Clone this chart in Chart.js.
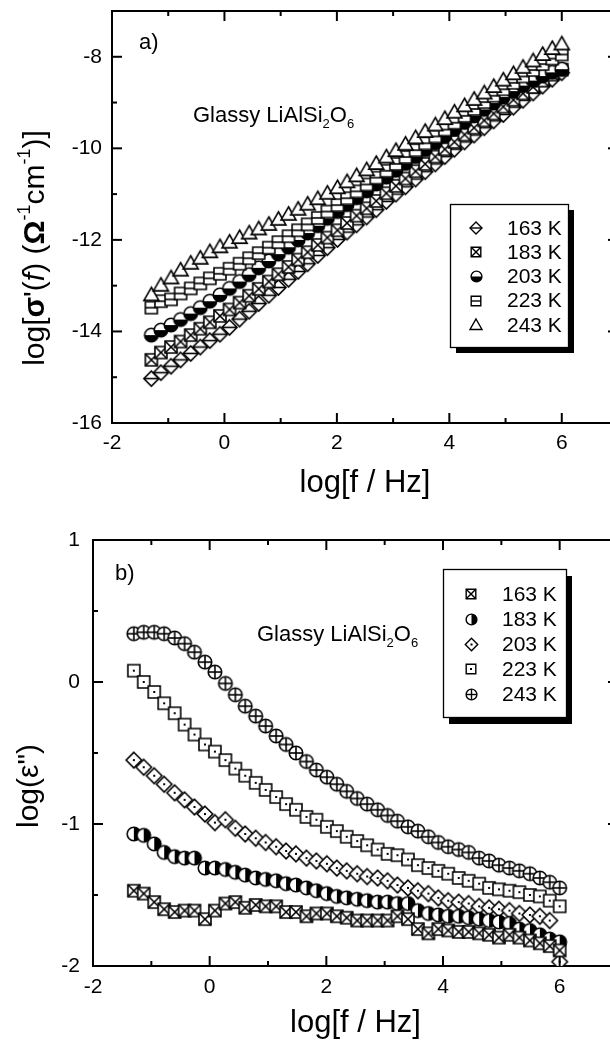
<!DOCTYPE html><html lang="en">
<head>
  <meta charset="UTF-8"/>
  <title>Glassy LiAlSi2O6 – conductivity and dielectric loss</title>
  <script src="https://cdn.jsdelivr.net/npm/chart.js@4.4.1/dist/chart.umd.min.js"></script>
  <style>
    *{box-sizing:border-box;margin:0;padding:0}
    body{width:610px;height:1046px;overflow:hidden;background:#fff;position:relative}
    .panel{position:absolute;left:0;width:640px}
    #boxA{top:0;height:520px}
    #boxB{top:520px;height:526px}
  </style>
</head>
<body>
  <div class="panel" id="boxA"><canvas id="chartA" width="640" height="520"></canvas></div>
  <div class="panel" id="boxB"><canvas id="chartB" width="640" height="526"></canvas></div>
  <script>
    // log(f/Hz) of the measured points
    const logF = [-1.30,-1.13,-0.95,-0.78,-0.60,-0.43,-0.26,-0.08,0.09,0.27,
                  0.44,0.61,0.79,0.96,1.14,1.31,1.48,1.66,1.83,2.01,
                  2.18,2.35,2.53,2.70,2.88,3.05,3.22,3.40,3.57,3.75,
                  3.92,4.09,4.27,4.44,4.62,4.79,4.96,5.14,5.31,5.49,
                  5.66,5.83,6.00];
    const temps = ['163 K','183 K','203 K','223 K','243 K'];

    // panel a) log sigma'(f)
    const sigma163 = [-15.03,-14.90,-14.76,-14.62,-14.48,-14.34,-14.20,-14.06,-13.91,-13.73,
                      -13.56,-13.39,-13.21,-13.04,-12.86,-12.69,-12.52,-12.34,-12.17,-11.99,
                      -11.83,-11.67,-11.50,-11.34,-11.16,-11.00,-10.84,-10.67,-10.51,-10.34,
                      -10.18,-10.02,-9.86,-9.71,-9.55,-9.40,-9.26,-9.10,-8.95,-8.79,
                      -8.64,-8.49,-8.35];
    const sigma183 = [-14.62,-14.46,-14.34,-14.22,-14.08,-13.94,-13.80,-13.66,-13.52,-13.37,
                      -13.22,-13.07,-12.91,-12.75,-12.59,-12.43,-12.27,-12.11,-11.95,-11.79,
                      -11.63,-11.47,-11.31,-11.15,-10.98,-10.82,-10.66,-10.50,-10.34,-10.18,
                      -10.02,-9.86,-9.70,-9.55,-9.39,-9.24,-9.09,-8.94,-8.80,-8.66,
                      -8.52,-8.39,-8.28];
    const sigma203 = [-14.08,-13.97,-13.86,-13.74,-13.61,-13.48,-13.34,-13.20,-13.06,-12.91,
                      -12.76,-12.61,-12.46,-12.31,-12.16,-12.00,-11.85,-11.69,-11.53,-11.38,
                      -11.23,-11.08,-10.93,-10.78,-10.63,-10.48,-10.33,-10.18,-10.03,-9.88,
                      -9.73,-9.58,-9.43,-9.29,-9.15,-9.01,-8.88,-8.75,-8.63,-8.52,
                      -8.42,-8.34,-8.27];
    const sigma223 = [-13.48,-13.34,-13.30,-13.17,-13.06,-12.95,-12.84,-12.74,-12.63,-12.52,
                      -12.40,-12.29,-12.17,-12.05,-11.92,-11.79,-11.66,-11.52,-11.38,-11.24,
                      -11.09,-10.94,-10.79,-10.64,-10.49,-10.34,-10.19,-10.04,-9.89,-9.74,
                      -9.59,-9.44,-9.29,-9.14,-8.99,-8.85,-8.71,-8.57,-8.43,-8.29,
                      -8.16,-8.04,-7.95];
    const sigma243 = [-13.20,-12.99,-12.83,-12.66,-12.51,-12.40,-12.26,-12.15,-12.05,-11.95,
                      -11.85,-11.76,-11.66,-11.55,-11.44,-11.33,-11.22,-11.10,-10.98,-10.86,
                      -10.73,-10.60,-10.47,-10.33,-10.19,-10.05,-9.91,-9.77,-9.63,-9.49,
                      -9.35,-9.21,-9.07,-8.93,-8.79,-8.65,-8.51,-8.37,-8.23,-8.09,
                      -7.95,-7.82,-7.72];

    // panel b) log eps''
    const eps163 = [-1.47,-1.49,-1.55,-1.60,-1.62,-1.61,-1.61,-1.67,-1.61,-1.56,
                    -1.55,-1.59,-1.57,-1.58,-1.58,-1.62,-1.62,-1.65,-1.63,-1.63,
                    -1.65,-1.66,-1.68,-1.68,-1.68,-1.68,-1.65,-1.67,-1.74,-1.77,
                    -1.74,-1.75,-1.76,-1.76,-1.77,-1.78,-1.80,-1.78,-1.80,-1.82,
                    -1.84,-1.86,-1.89];
    const eps183 = [-1.07,-1.08,-1.14,-1.20,-1.23,-1.24,-1.24,-1.31,-1.31,-1.32,
                    -1.34,-1.36,-1.38,-1.39,-1.40,-1.42,-1.43,-1.45,-1.47,-1.49,
                    -1.51,-1.52,-1.53,-1.54,-1.55,-1.55,-1.56,-1.56,-1.61,-1.63,
                    -1.64,-1.65,-1.65,-1.66,-1.67,-1.68,-1.69,-1.70,-1.74,-1.75,
                    -1.78,-1.81,-1.83];
    const eps203 = [-0.55,-0.60,-0.66,-0.72,-0.78,-0.83,-0.88,-0.93,-0.99,-0.97,
                    -1.03,-1.07,-1.10,-1.13,-1.16,-1.19,-1.21,-1.24,-1.26,-1.28,
                    -1.31,-1.33,-1.35,-1.37,-1.38,-1.40,-1.43,-1.45,-1.47,-1.49,
                    -1.52,-1.54,-1.55,-1.56,-1.58,-1.59,-1.60,-1.61,-1.63,-1.64,
                    -1.65,-1.68,-1.97];
    const eps223 = [0.08,0.00,-0.07,-0.15,-0.22,-0.30,-0.37,-0.44,-0.49,-0.55,
                    -0.61,-0.66,-0.71,-0.76,-0.81,-0.86,-0.90,-0.95,-0.97,-1.02,
                    -1.05,-1.09,-1.12,-1.15,-1.18,-1.21,-1.22,-1.25,-1.29,-1.31,
                    -1.33,-1.35,-1.38,-1.40,-1.42,-1.45,-1.46,-1.47,-1.48,-1.50,
                    -1.51,-1.54,-1.58];
    const eps243 = [0.34,0.35,0.35,0.34,0.31,0.27,0.21,0.14,0.07,-0.01,
                    -0.09,-0.17,-0.24,-0.31,-0.38,-0.44,-0.50,-0.56,-0.62,-0.67,
                    -0.72,-0.77,-0.82,-0.86,-0.90,-0.94,-0.98,-1.02,-1.05,-1.09,
                    -1.13,-1.16,-1.18,-1.20,-1.24,-1.26,-1.29,-1.31,-1.33,-1.35,
                    -1.38,-1.41,-1.45];

    // ticks
    const xMajor = [-2,0,2,4,6], xMinor = [-1,1,3,5];
    const aYMajor = [-16,-14,-12,-10,-8], aYMinor = [-15,-13,-11,-9];
    const bYMajor = [-2,-1,0,1], bYMinor = [-1.5,-0.5,0.5];

    const FONT = '"Liberation Sans", Arial, Helvetica, sans-serif';
    Chart.defaults.font.family = FONT;
    Chart.defaults.color = '#000';

    // open symbols drawn once into small canvases, used as point styles
    function makeMarker(kind, s, lw){
      const size = Math.ceil(s + 4);
      const c = document.createElement('canvas');
      c.width = size; c.height = size;
      const g = c.getContext('2d');
      const m = size / 2, h = s / 2;
      g.lineWidth = lw || 1.6; g.strokeStyle = '#000';
      const shape = () => {
        g.beginPath();
        if (kind.startsWith('diamond')) { g.moveTo(m, m-h); g.lineTo(m+h, m); g.lineTo(m, m+h); g.lineTo(m-h, m); g.closePath(); }
        else if (kind.startsWith('square')) g.rect(m-h, m-h, s, s);
        else if (kind.startsWith('circle')) g.arc(m, m, h, 0, Math.PI*2);
        else { g.moveTo(m, m-h); g.lineTo(m+h, m+h*0.75); g.lineTo(m-h, m+h*0.75); g.closePath(); }
      };
      const line = (x1,y1,x2,y2) => { g.beginPath(); g.moveTo(x1,y1); g.lineTo(x2,y2); g.stroke(); };
      shape(); g.fillStyle = '#fff'; g.fill();
      if (kind === 'circleBottom' || kind === 'circleRight') {
        g.beginPath();
        if (kind === 'circleBottom') g.arc(m, m, h, 0, Math.PI); else g.arc(m, m, h, -Math.PI/2, Math.PI/2);
        g.closePath(); g.fillStyle = '#000'; g.fill();
      }
      shape(); g.stroke();
      if (kind === 'diamondH' || kind === 'squareH') line(m-h, m, m+h, m);
      if (kind === 'squareX') { line(m-h, m-h, m+h, m+h); line(m+h, m-h, m-h, m+h); }
      if (kind === 'circlePlus') { line(m-h, m, m+h, m); line(m, m-h, m, m+h); }
      if (kind === 'diamondDot' || kind === 'squareDot') { g.fillStyle = '#000'; g.fillRect(m-1, m-1, 2, 2); }
      return c;
    }

    const kindsA = [['diamondH',15],['squareX',12],['circleBottom',13.5],['squareH',12],['triangle',15]];
    const kindsB = [['squareX',12],['circleRight',13.5],['diamondDot',15.5],['squareDot',12],['circlePlus',13.5]];

    function series(label, ys, kind, order){
      return {label, data: logF.map((x,i)=>({x, y: ys[i]})), showLine:false,
              pointStyle: makeMarker(kind[0], kind[1]), pointRadius:6, order};
    }

    function drawRich(ctx, x, y, parts, rotate){
      ctx.save();
      ctx.translate(x, y);
      if (rotate) ctx.rotate(-Math.PI/2);
      ctx.textBaseline = rotate ? 'middle' : 'alphabetic';
      ctx.textAlign = 'left';
      let w = 0;
      parts.forEach(p => { ctx.font = p.f; p.w = ctx.measureText(p.t).width; w += p.w; });
      let cx = rotate ? -w/2 : 0;
      parts.forEach(p => { ctx.font = p.f; ctx.fillText(p.t, cx, p.dy || 0); cx += p.w; });
      ctx.restore();
    }

    const f30 = '30px ' + FONT, b30 = 'bold 30px ' + FONT, s18 = '18px ' + FONT;
    const nameParts = () => [{t:'Glassy LiAlSi', f:'22px '+FONT},{t:'2', f:'13px '+FONT, dy:6},
                             {t:'O', f:'22px '+FONT},{t:'6', f:'13px '+FONT, dy:6}];

    // per panel decorations, looked up by canvas id
    const decor = {
      chartA: {
        tag:'a)', tagX:139, tagY:49, nameX:193, nameY:122,
        legend:{x:450, y:204, w:118, h:143, sx:6, sy:6, markX:476, textX:507, rowY:228, step:24.2},
        kinds: kindsA,
        yTitle:{x:36, y:248, parts:[{t:'log[', f:f30},{t:'σ', f:b30},{t:'\'(', f:f30},{t:'f', f:'italic 30px '+FONT},
                 {t:') (', f:f30},{t:'Ω', f:b30},{t:'-1', f:s18, dy:-11},{t:'cm', f:f30},{t:'-1', f:s18, dy:-11},{t:')]', f:f30}]},
        ticks:{xMajor, xMinor, yMajor:aYMajor, yMinor:aYMinor}
      },
      chartB: {
        tag:'b)', tagX:115, tagY:60, nameX:257, nameY:121,
        legend:{x:443, y:49, w:123, h:148, sx:6, sy:7, markX:471, textX:502, rowY:74, step:25},
        kinds: kindsB,
        yTitle:{x:30, y:266, parts:[{t:'log(ε")', f:f30}]},
        ticks:{xMajor, xMinor, yMajor:bYMajor, yMinor:bYMinor}
      }
    };

    // top/right frame and inward ticks on all four sides
    const frameTicks = {
      id:'frameTicks',
      afterDraw(chart){
        const d = decor[chart.canvas.id]; if (!d) return;
        const {ctx, chartArea:a, scales:{x, y}} = chart;
        ctx.save();
        ctx.strokeStyle = '#000'; ctx.lineWidth = 2;
        ctx.beginPath(); ctx.moveTo(a.left, a.top); ctx.lineTo(a.right, a.top); ctx.lineTo(a.right, a.bottom); ctx.stroke();
        const seg = (x1,y1,x2,y2) => { ctx.beginPath(); ctx.moveTo(x1,y1); ctx.lineTo(x2,y2); ctx.stroke(); };
        const xt = (vals, len) => vals.forEach(v => { const p = x.getPixelForValue(v); seg(p, a.bottom, p, a.bottom-len); seg(p, a.top, p, a.top+len); });
        const yt = (vals, len) => vals.forEach(v => { const p = y.getPixelForValue(v); seg(a.left, p, a.left+len, p); seg(a.right, p, a.right-len, p); });
        xt(d.ticks.xMajor, 10); xt(d.ticks.xMinor, 5);
        yt(d.ticks.yMajor, 10); yt(d.ticks.yMinor, 5);
        ctx.restore();
      }
    };

    // panel tag, sample name, framed legend with shadow, rich y title
    const panelDecor = {
      id:'panelDecor',
      afterDraw(chart){
        const d = decor[chart.canvas.id]; if (!d) return;
        const ctx = chart.ctx, L = d.legend;
        ctx.save();
        ctx.fillStyle = '#000';
        ctx.font = '22px ' + FONT; ctx.textBaseline = 'alphabetic';
        ctx.fillText(d.tag, d.tagX, d.tagY);
        drawRich(ctx, d.nameX, d.nameY, nameParts(), false);
        ctx.fillStyle = '#000';
        ctx.fillRect(L.x + L.sx, L.y + L.sy, L.w, L.h);
        ctx.fillStyle = '#fff';
        ctx.fillRect(L.x, L.y, L.w, L.h);
        ctx.lineWidth = 1.3; ctx.strokeStyle = '#000';
        ctx.strokeRect(L.x + 0.5, L.y + 0.5, L.w, L.h);
        temps.forEach((t, i) => {
          const cy = L.rowY + i * L.step;
          const mk = makeMarker(d.kinds[i][0], d.kinds[i][1] * 0.8, 1.4);
          ctx.drawImage(mk, Math.round(L.markX - mk.width/2), Math.round(cy - mk.height/2));
          ctx.fillStyle = '#000'; ctx.font = '21px ' + FONT; ctx.textBaseline = 'middle';
          ctx.fillText(t, L.textX, cy + 1);
        });
        ctx.fillStyle = '#000';
        drawRich(ctx, d.yTitle.x, d.yTitle.y, d.yTitle.parts, true);
        ctx.restore();
      }
    };

    function options(c){
      return {
        responsive:false, animation:false, events:[],
        layout:{padding:{top:c.top, right:22, bottom:0, left:0}},
        plugins:{legend:{display:false}, tooltip:{enabled:false}},
        scales:{
          x:{type:'linear', min:-2, max:7,
             afterBuildTicks: s => { s.ticks = xMajor.map(v => ({value:v})); },
             afterFit: s => { s.height = c.xh; s.paddingLeft = 0; s.paddingRight = 0; },
             grid:{display:false, drawTicks:false},
             border:{display:true, color:'#000', width:2},
             ticks:{color:'#000', font:{size:21}, padding:c.xpad, autoSkip:false, maxRotation:0, callback: v => String(v)},
             title:{display:true, text:'log[f / Hz]', color:'#000', font:{size:31}, padding:{top:0, bottom:c.tpad}}},
          y:{type:'linear', min:c.ymin, max:c.ymax,
             afterBuildTicks: s => { s.ticks = c.yMajor.map(v => ({value:v})); },
             afterFit: s => { s.width = c.yw; s.paddingTop = 0; s.paddingBottom = 0; },
             grid:{display:false, drawTicks:false},
             border:{display:true, color:'#000', width:2},
             ticks:{color:'#000', font:{size:21}, padding:c.ypad, autoSkip:false, callback: v => String(v)}}
        }
      };
    }

    new Chart(document.getElementById('chartA'), {
      type:'scatter',
      data:{datasets:[
        series(temps[0], sigma163, kindsA[0], 4),
        series(temps[1], sigma183, kindsA[1], 3),
        series(temps[2], sigma203, kindsA[2], 2),
        series(temps[3], sigma223, kindsA[3], 1),
        series(temps[4], sigma243, kindsA[4], 0)
      ]},
      options: options({top:11, xh:97, xpad:8, tpad:18, ymin:-16, ymax:-7, yMajor:aYMajor, yw:112, ypad:10}),
      plugins:[frameTicks, panelDecor]
    });

    new Chart(document.getElementById('chartB'), {
      type:'scatter',
      data:{datasets:[
        series(temps[0], eps163, kindsB[0], 0),
        series(temps[1], eps183, kindsB[1], 1),
        series(temps[2], eps203, kindsB[2], 2),
        series(temps[3], eps223, kindsB[3], 3),
        series(temps[4], eps243, kindsB[4], 4)
      ]},
      options: options({top:20, xh:80, xpad:9, tpad:4, ymin:-2, ymax:1, yMajor:bYMajor, yw:93, ypad:13}),
      plugins:[frameTicks, panelDecor]
    });
  </script>
</body>
</html>
